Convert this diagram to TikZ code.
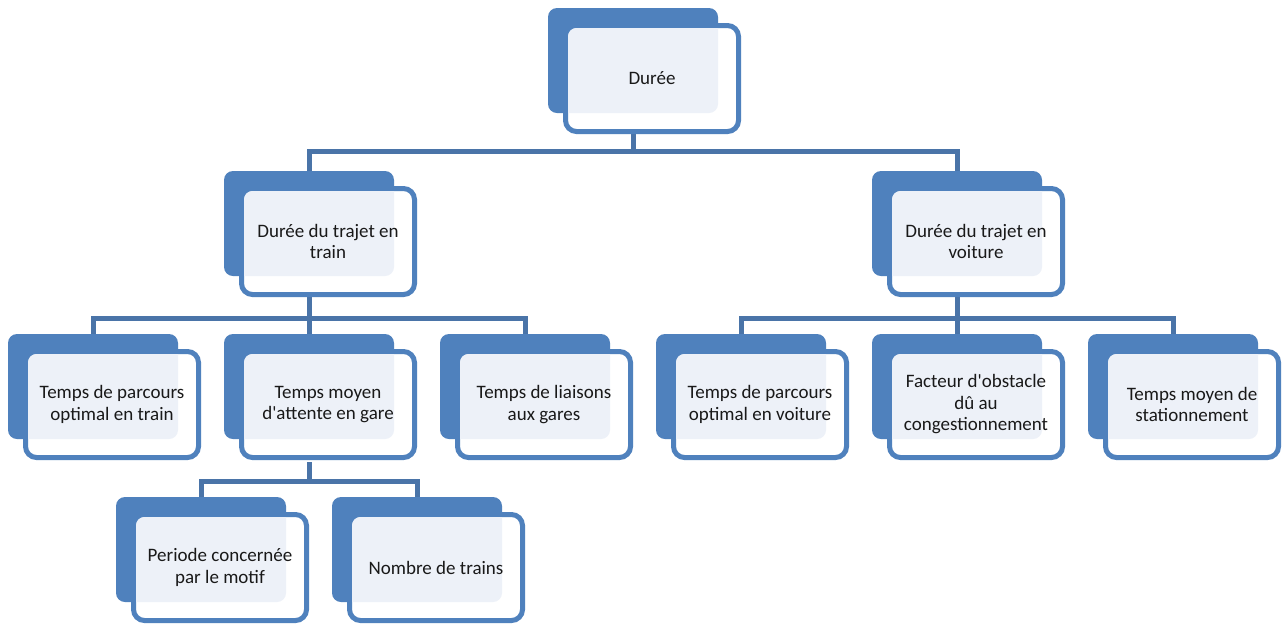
\documentclass[tikz,border=0pt]{standalone}
\usepackage{fontspec}
\newfontfamily\cf{Carlito}
\usetikzlibrary{calc}
\definecolor{bblue}{HTML}{4F81BD}
\definecolor{cblue}{HTML}{4A74A8}
\definecolor{lightf}{HTML}{EDF1F8}
\tikzset{
  backbox/.style={fill=bblue, draw=none, rounded corners=9pt, minimum width=170pt, minimum height=105pt, inner sep=0pt, outer sep=0pt},
  frontbox/.style={fill=white, draw=bblue, line width=5pt, rounded corners=11pt, minimum width=173pt, minimum height=106pt, inner sep=0pt, outer sep=0pt, align=center, font=\cf\fontsize{19}{21.5}\selectfont, text=black!90},
  conn/.style={draw=cblue, line width=5pt}
}
\newcommand\mybox[4]{% name, back x, back y (top), text
  \node[backbox] (b#1) at (#2+85,-#3-52.5) {};
  \node[frontbox] (f#1) at (#2+104,-#3-70.5) {};
  \begin{scope}
    \clip[rounded corners=8.5pt] ($(f#1.south west)+(2.5pt,2.5pt)$) rectangle ($(f#1.north east)-(2.5pt,2.5pt)$);
    \fill[lightf, rounded corners=9pt] (b#1.south west) rectangle (b#1.north east);
  \end{scope}
  \node[frontbox, fill=none, draw=none] (t#1) at (f#1.center) {#4};
}
\begin{document}
\begin{tikzpicture}[x=1pt,y=1pt]
\useasboundingbox[fill=white] (0,0) rectangle (1286,-625);
% connectors drawn first
\coordinate (p1) at (633,-133);
\coordinate (p2) at (309,-297);
\coordinate (p3) at (957,-297);
\coordinate (p4) at (309,-462);
\draw[conn] (p1) -- (633,-151) coordinate (h1);
\draw[conn] (309,-173) |- (h1) -| (957,-173);
\draw[conn] (p2) -- (309,-318) coordinate (h2);
\draw[conn] (93,-336) |- (h2) -| (525,-336);
\draw[conn] (h2) -- (309,-336);
\draw[conn] (p3) -- (957,-318) coordinate (h3);
\draw[conn] (741,-336) |- (h3) -| (1173,-336);
\draw[conn] (h3) -- (957,-336);
\draw[conn] (p4) -- (309,-481) coordinate (h4);
\draw[conn] (201,-499) |- (h4) -| (417,-499);
% boxes
\mybox{1}{548}{8}{Durée}
\mybox{2}{224}{171}{Durée du trajet en\\train}
\mybox{3}{872}{171}{Durée du trajet en\\voiture}
\mybox{4}{8}{334}{Temps de parcours\\optimal en train}
\mybox{5}{224}{334}{Temps moyen\\d'attente en gare}
\mybox{6}{440}{334}{Temps de liaisons\\aux gares}
\mybox{7}{656}{334}{Temps de parcours\\optimal en voiture}
\mybox{8}{872}{334}{Facteur d'obstacle\\dû au\\congestionnement}
\mybox{9}{1088}{334}{Temps moyen de\\stationnement}
\mybox{10}{116}{497}{Periode concernée\\par le motif}
\mybox{11}{332}{497}{Nombre de trains}
\end{tikzpicture}
\end{document}
